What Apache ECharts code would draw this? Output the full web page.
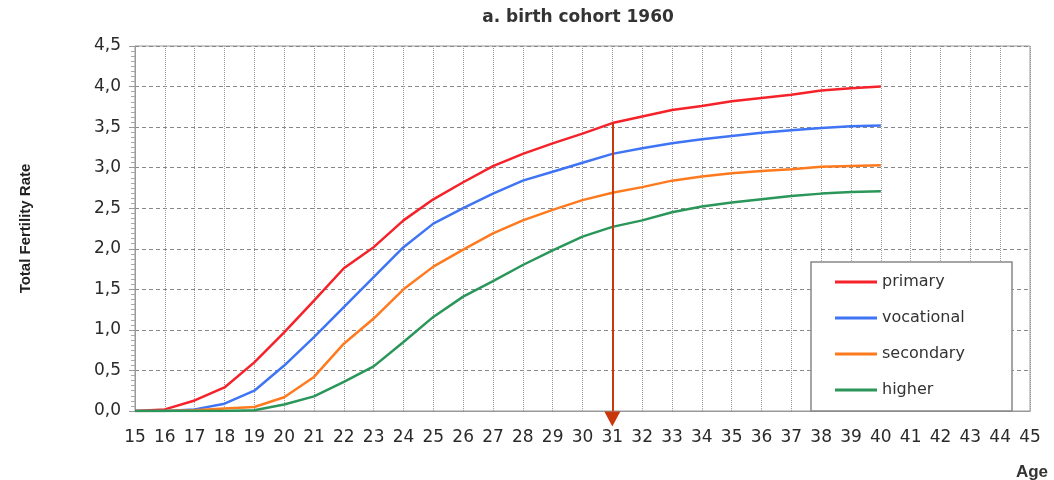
<!DOCTYPE html>
<html>
<head>
<meta charset="utf-8">
<script src="https://cdn.jsdelivr.net/npm/echarts@6/dist/echarts.min.js"></script>
<style>
  html, body { margin: 0; padding: 0; background: #fff; }
  #chart { width: 1054px; height: 480px; }
</style>
</head>
<body>
<div id="chart"></div>
<script>
// ages on the x axis (data runs 15..40, axis goes to 45)
const ages = [15, 16, 17, 18, 19, 20, 21, 22, 23, 24, 25, 26, 27, 28, 29, 30, 31, 32, 33, 34, 35, 36, 37, 38, 39, 40];
const primary = [0, 0.02, 0.13, 0.29, 0.6, 0.97, 1.36, 1.76, 2.02, 2.35, 2.61, 2.82, 3.02, 3.17, 3.3, 3.42, 3.55, 3.63, 3.71, 3.76, 3.82, 3.86, 3.9, 3.95, 3.98, 4.0];
const vocational = [0, 0, 0.02, 0.09, 0.25, 0.56, 0.91, 1.28, 1.65, 2.02, 2.31, 2.5, 2.68, 2.84, 2.95, 3.06, 3.17, 3.24, 3.3, 3.35, 3.39, 3.43, 3.46, 3.49, 3.51, 3.52];
const secondary = [0, 0, 0.01, 0.03, 0.05, 0.17, 0.42, 0.83, 1.14, 1.5, 1.78, 1.99, 2.19, 2.35, 2.48, 2.6, 2.69, 2.76, 2.84, 2.89, 2.93, 2.96, 2.98, 3.01, 3.02, 3.03];
const higher = [0, 0, 0, 0, 0.01, 0.08, 0.18, 0.36, 0.55, 0.85, 1.16, 1.41, 1.6, 1.8, 1.98, 2.15, 2.27, 2.35, 2.45, 2.52, 2.57, 2.61, 2.65, 2.68, 2.7, 2.71];
const seriesNames = ["primary", "vocational", "secondary", "higher"];
const markAge = 31; // arrow drawn down from the primary curve

const colors = ["#f5222a", "#3f74f5", "#ff7a1e", "#2a9659"];
const arrowColor = "#c8380c";

function pairs(values) {
  return ages.map((a, i) => [a, values[i]]);
}

let myChart = echarts.init(document.getElementById("chart"));
const markValue = primary[ages.indexOf(markAge)];

let option = {
  animation: false,
  color: colors,
  title: [
    {
      text: "a. birth cohort 1960",
      left: 573,
      top: 4,
      textAlign: "center",
      textStyle: { fontFamily: "DejaVu Sans", fontSize: 17, fontWeight: "bold", color: "#333" },
    },
    {
      text: "Age",
      right: 1,
      top: 459,
      textStyle: { fontFamily: "Liberation Sans", fontSize: 17, fontWeight: "bold", color: "#333" },
    },
  ],
  grid: {
    left: 135,
    right: 24,
    top: 46,
    bottom: 69,
    show: true,
    borderColor: "#999",
    borderWidth: 1,
  },
  legend: {
    data: seriesNames,
    orient: "vertical",
    left: 811,
    top: 262,
    padding: [11, 15, 12, 24],
    itemGap: 18,
    itemWidth: 42,
    itemHeight: 3,
    icon: "rect",
    borderColor: "#888",
    borderWidth: 1.5,
    backgroundColor: "#fff",
    textStyle: { fontFamily: "DejaVu Sans", fontSize: 16, color: "#333", width: 115, lineHeight: 18 },
  },
  xAxis: {
    type: "value",
    min: 15,
    max: 45,
    interval: 1,
    axisLine: { lineStyle: { color: "#999" } },
    axisTick: { show: false },
    axisLabel: { fontFamily: "DejaVu Sans", fontSize: 17, color: "#2a2a2a", margin: 18 },
    splitLine: { show: true, lineStyle: { type: "dotted", color: "#999" } },
  },
  yAxis: {
    type: "value",
    name: "Total Fertility Rate",
    nameLocation: "middle",
    nameGap: 102,
    nameTextStyle: { fontFamily: "Liberation Sans", fontSize: 15, fontWeight: "bold", color: "#222" },
    min: 0,
    max: 4.5,
    interval: 0.5,
    axisLine: { show: true, lineStyle: { color: "#999" } },
    axisTick: { show: true, length: 6, lineStyle: { color: "#999" } },
    minorTick: { show: true, splitNumber: 8, length: 4, lineStyle: { color: "#aaa" } },
    axisLabel: {
      fontFamily: "DejaVu Sans",
      fontSize: 17,
      color: "#2a2a2a",
      margin: 14,
      formatter: (v) => v.toFixed(1).replace(".", ","),
    },
    splitLine: { show: true, lineStyle: { type: [4, 3], color: "#888" } },
  },
  series: [
    {
      name: seriesNames[0],
      type: "line",
      data: pairs(primary),
      showSymbol: false,
      lineStyle: { width: 2.5 },
      markLine: {
        silent: true,
        symbol: ["none", "none"],
        label: { show: false },
        lineStyle: { color: arrowColor, width: 2, type: "solid" },
        data: [[{ coord: [markAge, markValue] }, { coord: [markAge, 0] }]],
      },
      markPoint: {
        silent: true,
        symbol: "triangle",
        symbolSize: [16, 15],
        symbolRotate: 180,
        symbolOffset: [0, 8],
        label: { show: false },
        itemStyle: { color: arrowColor },
        data: [{ coord: [markAge, 0] }],
      },
    },
    { name: seriesNames[1], type: "line", data: pairs(vocational), showSymbol: false, lineStyle: { width: 2.5 } },
    { name: seriesNames[2], type: "line", data: pairs(secondary), showSymbol: false, lineStyle: { width: 2.5 } },
    { name: seriesNames[3], type: "line", data: pairs(higher), showSymbol: false, lineStyle: { width: 2.5 } },
  ],
};

option && myChart.setOption(option);
</script>
</body>
</html>
